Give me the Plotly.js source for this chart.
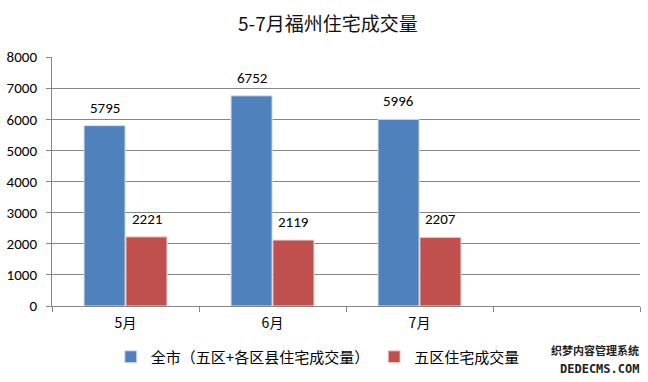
<!DOCTYPE html>
<html><head><meta charset="utf-8">
<script src="https://cdn.plot.ly/plotly-3.0.1.min.js"></script>
<style>html,body{margin:0;padding:0;background:#fff;}#chart{width:648px;height:382px;}</style>
</head><body><div id="chart"></div>
<script>
const categories = ['5月', '6月', '7月', ' '];
const months = ['5月', '6月', '7月'];
const cityTotal = [5795, 6752, 5996];
const fiveDistricts = [2221, 2119, 2207];
const seriesNames = ['全市（五区+各区县住宅成交量）', '五区住宅成交量'];
const yTicks = [0, 1000, 2000, 3000, 4000, 5000, 6000, 7000, 8000];

const font = "Calibri, Carlito, 'Liberation Sans', 'Noto Sans CJK SC', sans-serif";
const cjk = "'Noto Sans CJK SC', sans-serif";

const traces = [
  {type: 'bar', name: seriesNames[0], x: months, y: cityTotal,
   marker: {color: '#4F81BD', line: {color: '#d8e0ea', width: 1}}},
  {type: 'bar', name: seriesNames[1], x: months, y: fiveDistricts,
   marker: {color: '#C0504D', line: {color: '#ecd6d5', width: 1}}}
];

const labelAnn = [];
[[cityTotal, -21], [fiveDistricts, 21]].forEach(([vals, dx]) => {
  vals.forEach((v, i) => labelAnn.push({
    x: months[i], y: v, xref: 'x', yref: 'y', text: String(v), showarrow: false,
    xanchor: 'center', yanchor: 'bottom', xshift: dx, yshift: 7,
    font: {family: font, size: 15, color: '#000'}
  }));
});

const layout = {
  width: 648, height: 382,
  margin: {l: 52, r: 8, t: 57, b: 76},
  paper_bgcolor: '#fff', plot_bgcolor: '#fff',
  title: {text: '5-7月福州住宅成交量', font: {family: cjk, size: 19, color: '#111'},
          x: 0.506, xanchor: 'center', y: 0.935, yanchor: 'middle'},
  barmode: 'group', bargap: 0.43, bargroupgap: 0.02,
  showlegend: true,
  legend: {orientation: 'h', x: 0.1, xanchor: 'left', y: -0.205, yanchor: 'middle',
           font: {family: cjk, size: 15, color: '#000'}, itemwidth: 30, tracegroupgap: 0},
  xaxis: {type: 'category', categoryorder: 'array', categoryarray: categories,
          range: [-0.5, 3.5], tickson: 'boundaries', ticks: 'outside', ticklen: 5,
          tickcolor: '#868686', showline: true, linecolor: '#868686', linewidth: 1,
          showgrid: false, ticklabelstandoff: 4,
          tickfont: {family: cjk, size: 14, color: '#000'}, fixedrange: true},
  yaxis: {range: [0, 8000], tickvals: yTicks, ticktext: yTicks.map(String),
          ticks: 'outside', ticklen: 5, tickcolor: '#868686', showline: true,
          linecolor: '#868686', linewidth: 1, showgrid: true, gridcolor: '#868686',
          gridwidth: 1, zeroline: false, ticklabelstandoff: 6,
          tickfont: {family: font, size: 15, color: '#000'}, fixedrange: true},
  annotations: labelAnn.concat([
    {text: '<b>织梦内容管理系统</b>', xref: 'paper', yref: 'paper', x: 1.0, y: -0.175,
     xanchor: 'right', yanchor: 'middle', showarrow: false, borderpad: 0,
     font: {family: cjk, size: 11, color: '#222'}},
    {text: '<b>DEDECMS.COM</b>', xref: 'paper', yref: 'paper', x: 1.0, y: -0.255,
     xanchor: 'right', yanchor: 'middle', showarrow: false, borderpad: 0,
     font: {family: "'DejaVu Sans Mono', monospace", size: 12, color: '#222'}}
  ])
};

Plotly.newPlot('chart', traces, layout, {displayModeBar: false, staticPlot: true});
</script></body></html>
